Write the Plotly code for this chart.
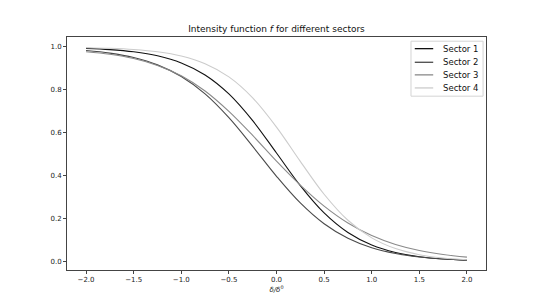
import plotly.graph_objects as go

x_vals = [-2.0, -1.75, -1.5, -1.25, -1.0, -0.75, -0.5, -0.25, 0.0,
          0.25, 0.5, 0.75, 1.0, 1.25, 1.5, 1.75, 2.0]

sector1 = [0.9935, 0.9879, 0.9776, 0.9589, 0.9259, 0.8699, 0.7816, 0.6570, 0.5062,
           0.3543, 0.2270, 0.1359, 0.0776, 0.0431, 0.0235, 0.0127, 0.0069]
sector2 = [0.9835, 0.9714, 0.9508, 0.9167, 0.8625, 0.7815, 0.6706, 0.5371, 0.3979,
           0.2736, 0.1767, 0.1090, 0.0651, 0.0382, 0.0221, 0.0127, 0.0073]
sector3 = [0.9780, 0.9660, 0.9460, 0.9140, 0.8660, 0.7950, 0.7000, 0.5880, 0.4686,
           0.3570, 0.2591, 0.1804, 0.1218, 0.0803, 0.0521, 0.0335, 0.0213]
sector4 = [0.9967, 0.9938, 0.9881, 0.9775, 0.9577, 0.9220, 0.8606, 0.7631, 0.6271,
           0.4675, 0.3143, 0.1931, 0.1111, 0.0612, 0.0329, 0.0175, 0.0092]

names = ["Sector 1", "Sector 2", "Sector 3", "Sector 4"]
series = [sector1, sector2, sector3, sector4]
colors = ["#111111", "#4a4a4a", "#8a8a8a", "#cccccc"]

x_ticks = [-2.0, -1.5, -1.0, -0.5, 0.0, 0.5, 1.0, 1.5, 2.0]
x_tick_text = ["\u22122.0", "\u22121.5", "\u22121.0", "\u22120.5", "0.0", "0.5", "1.0", "1.5", "2.0"]
y_ticks = [0.0, 0.2, 0.4, 0.6, 0.8, 1.0]
y_tick_text = ["0.0", "0.2", "0.4", "0.6", "0.8", "1.0"]

font = "DejaVu Sans"

fig = go.Figure()
for name, ys, c in zip(names, series, colors):
    fig.add_trace(go.Scatter(x=x_vals, y=ys, mode="lines", name=name, showlegend=False,
                             line=dict(color=c, width=1.1, shape="spline")))

# hand-drawn legend (matplotlib-style, compact spacing)
shapes = [dict(type="rect", xref="paper", yref="paper", x0=0.821, x1=0.993, y0=0.746, y1=0.982,
               line=dict(color="#d4d4d4", width=1), fillcolor="white", layer="above")]
annotations = []
entry_y = [0.950, 0.8915, 0.8375, 0.7814]
for name, c, yy in zip(names, colors, entry_y):
    shapes.append(dict(type="line", xref="paper", yref="paper", x0=0.830, x1=0.874, y0=yy, y1=yy,
                       line=dict(color=c, width=1.3), layer="above"))
    annotations.append(dict(text=name, xref="paper", yref="paper", x=0.8925, y=yy,
                            xanchor="left", yanchor="middle", showarrow=False,
                            font=dict(family=font, size=8.5, color="#111")))

fig.update_layout(
    width=540, height=304,
    margin=dict(l=59, r=62, t=29, b=42),
    paper_bgcolor="white", plot_bgcolor="white",
    font=dict(family=font, size=7, color="#222"),
    title=dict(text="Intensity function <i>f</i> for different sectors",
               x=268.5 / 540, xanchor="center", y=1 - 21 / 304, yanchor="middle",
               font=dict(family=font, size=9, color="#111")),
    showlegend=False,
    shapes=shapes,
    annotations=annotations,
)
fig.update_xaxes(range=[-2.2, 2.2], tickvals=x_ticks, ticktext=x_tick_text,
                 showgrid=False, zeroline=False, showline=True, mirror=True,
                 linecolor="#444", linewidth=1, ticks="outside", ticklen=3,
                 tickcolor="#444", tickfont=dict(family=font, size=7, color="#222"),
                 title=dict(text="<i>\u03b4/\u03b4</i><sup>0</sup>", standoff=3,
                            font=dict(family=font, size=7, color="#222")))
fig.update_yaxes(range=[-0.0385, 1.0465], tickvals=y_ticks, ticktext=y_tick_text,
                 showgrid=False, zeroline=False, showline=True, mirror=True,
                 linecolor="#444", linewidth=1, ticks="outside", ticklen=3,
                 tickcolor="#444", tickfont=dict(family=font, size=7, color="#222"))

fig.write_html("out.html")
